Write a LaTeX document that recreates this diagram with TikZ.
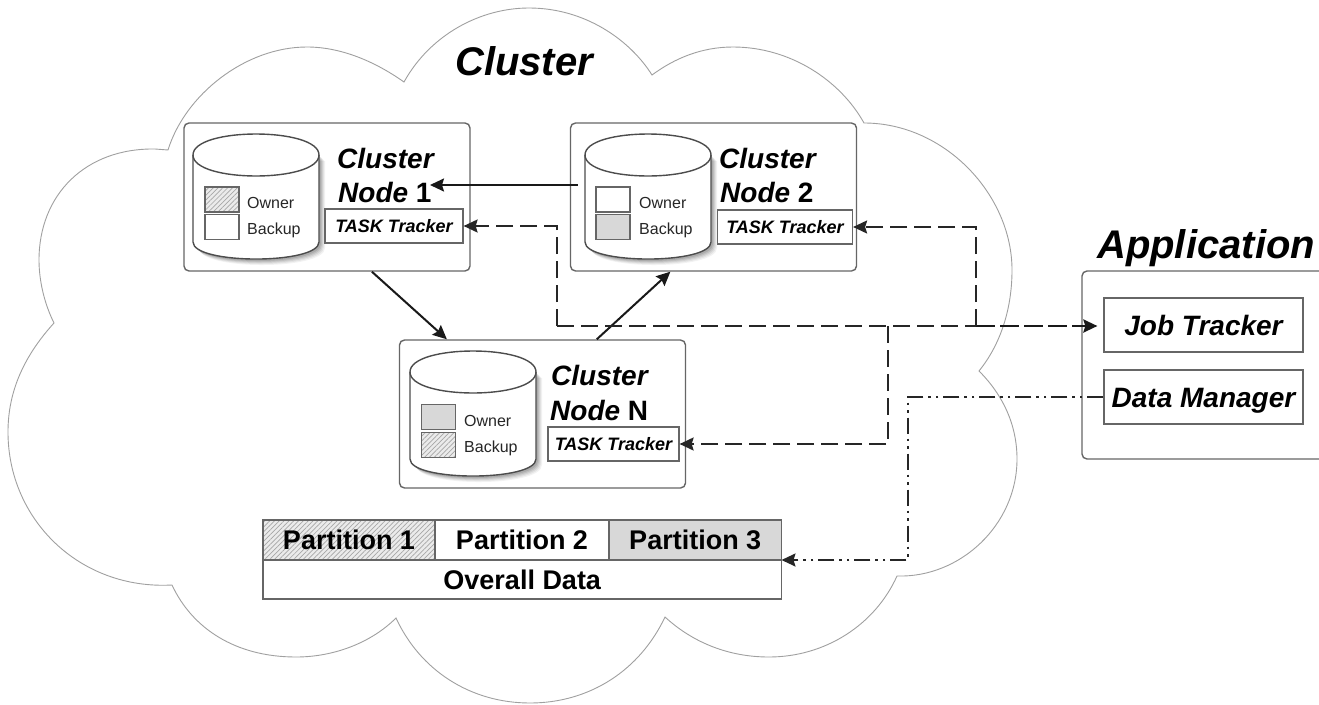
\documentclass[tikz,border=0pt]{standalone}
\usepackage{fontspec}
\setmainfont{Liberation Sans}
\usetikzlibrary{arrows.meta,patterns.meta}
\definecolor{edgegray}{HTML}{666666}
\definecolor{cloudgray}{HTML}{A0A0A0}
\definecolor{fillgray}{HTML}{D8D8D8}
\definecolor{hatchgray}{HTML}{A6A6A6}
\tikzset{
  cloudline/.style={draw=cloudgray,line width=0.9pt},
  nodebox/.style={draw=edgegray,line width=1.4pt,rounded corners=5pt,minimum width=286pt,minimum height=148pt,inner sep=0pt,fill=white},
  trackbox/.style={draw=edgegray,line width=1.2pt,inner sep=0pt,minimum height=34pt,font=\fontsize{18}{20}\selectfont\bfseries\itshape},
  appbox/.style={draw=edgegray,line width=1.2pt,inner sep=0pt,minimum width=199pt,minimum height=54pt,text height=20pt,text depth=0pt,font=\fontsize{28}{30}\selectfont\bfseries\itshape},
  swatch/.style={draw=edgegray,line width=1.2pt,inner sep=0pt,minimum width=34pt,minimum height=25pt},
  hatched/.style={preaction={fill=fillgray!50},pattern={Lines[angle=45,distance=3.4pt,line width=0.7pt]},pattern color=hatchgray},
  solidfill/.style={fill=fillgray},
  smalltxt/.style={anchor=west,inner sep=0pt,text=black!85,font=\fontsize{16}{18}\selectfont},
  headtxt/.style={anchor=base west,inner sep=0pt,font=\fontsize{28}{30}\selectfont\bfseries\itshape},
  bigtxt/.style={anchor=base west,inner sep=0pt,font=\fontsize{40}{44}\selectfont\bfseries\itshape},
  celltxt/.style={draw=edgegray,line width=1.2pt,inner sep=0pt,font=\fontsize{27}{30}\selectfont\bfseries},
  tip/.style={-{Stealth[length=14pt,width=13pt,inset=2pt]}},
  solidconn/.style={tip,line width=2pt,black!90},
  dashconn/.style={line width=2pt,black!85,dash pattern=on 17pt off 7pt},
  dashheavy/.style={line width=2.6pt,black!90,dash pattern=on 19pt off 5pt},
  dotconn/.style={line width=2pt,black!85,dash pattern=on 16pt off 5pt on 2.5pt off 5pt on 2.5pt off 5pt},
}
\newcommand{\dbcyl}[2]{%
  \foreach \o/\s in {6/0.05,5/0.06,4/0.07,3/0.09,2/0.10}{
    \fill[black,opacity=\s,shift={(\o pt,-\o pt)}] (#1,#2) -- ++(0,87) .. controls +(0,22.7) and +(0,22.7) .. ++(126,0) -- ++(0,-87) -- cycle;
  }
  \draw[fill=white,draw=black!70,line width=1.4pt] (#1,#2) -- ++(0,87) .. controls +(0,22.7) and +(0,22.7) .. ++(126,0) -- ++(0,-87) .. controls +(0,-28) and +(0,-28) .. ++(-126,0) -- cycle;
  \draw[draw=black!70,line width=1.4pt] (#1,#2) .. controls +(0,28) and +(0,28) .. ++(126,0);
}
\begin{document}
\begin{tikzpicture}[x=1pt,y=-1pt]
\useasboundingbox (0,0) rectangle (1319,704);
% cloud
\draw[cloudline,fill=white] (168,150)
  .. controls (185,95) and (245,47) .. (307,47)
  .. controls (345,47) and (380,65) .. (404,82)
  .. controls (430,35) and (480,8) .. (529,8)
  .. controls (585,8) and (630,40) .. (652,75)
  .. controls (675,58) and (702,47) .. (733,47)
  .. controls (790,47) and (840,80) .. (864,123)
  .. controls (945,123) and (1012,195) .. (1012,270)
  .. controls (1012,310) and (1000,345) .. (979,371)
  .. controls (1003,395) and (1017,425) .. (1017,459)
  .. controls (1017,525) and (960,578) .. (897,576)
  .. controls (875,625) and (825,657) .. (769,657)
  .. controls (725,657) and (690,640) .. (665,617)
  .. controls (640,670) and (590,703) .. (530,703)
  .. controls (470,703) and (420,670) .. (396,618)
  .. controls (372,642) and (335,657) .. (296,657)
  .. controls (235,657) and (192,628) .. (172,585)
  .. controls (80,590) and (8,520) .. (8,432)
  .. controls (8,390) and (25,355) .. (54,323)
  .. controls (45,305) and (39,282) .. (39,260)
  .. controls (39,195) and (85,148) .. (155,149)
  -- cycle;
\node[bigtxt] (clustertitle) at (455,75) {Cluster};

% cluster node boxes
\node[nodebox] (n1) at (327,197) {};
\node[nodebox] (n2) at (713.5,197) {};
\node[nodebox] (nN) at (542.5,414) {};

% cylinders
\dbcyl{193}{155}
\dbcyl{585}{155}
\dbcyl{410}{372}

% node 1 contents
\node[swatch,hatched] (o1) at (222,199.5) {};
\node[swatch] (b1) at (222,227) {};
\node[smalltxt] (to1) at (247,203) {Owner};
\node[smalltxt] (tb1) at (247,230) {Backup};
\node[headtxt] (h1a) at (337,168) {Cluster};
\node[headtxt] (h1b) at (338,202) {Node \upshape 1};
\node[trackbox,minimum width=138pt] (tt1) at (394,226) {TASK Tracker};

% node 2 contents
\node[swatch] (o2) at (613,199.5) {};
\node[swatch,solidfill] (b2) at (613,227) {};
\node[smalltxt] (to2) at (639,203) {Owner};
\node[smalltxt] (tb2) at (639,230) {Backup};
\node[headtxt] (h2a) at (719,168) {Cluster};
\node[headtxt] (h2b) at (720,202) {Node \upshape 2};
\node[trackbox,minimum width=135pt] (tt2) at (785,227) {TASK Tracker};

% node N contents
\node[swatch,solidfill] (oN) at (438.5,417) {};
\node[swatch,hatched] (bN) at (438.5,445) {};
\node[smalltxt] (toN) at (464,421) {Owner};
\node[smalltxt] (tbN) at (464,448) {Backup};
\node[headtxt] (hNa) at (551,385) {Cluster};
\node[headtxt] (hNb) at (550,420) {Node \upshape N};
\node[trackbox,minimum width=131pt] (ttN) at (613.5,444) {TASK Tracker};

% table
\node[celltxt,hatched,minimum width=172pt,minimum height=40pt] (p1) at (349,540) {};
\node[celltxt,minimum width=174pt,minimum height=40pt] (p2) at (522,540) {Partition 2};
\node[celltxt,solidfill,minimum width=172.5pt,minimum height=40pt] (p3) at (695.25,540) {Partition 3};
\node[celltxt,minimum width=518.5pt,minimum height=39pt] (overall) at (522.25,579.5) {Overall Data};
\node[font=\fontsize{27}{30}\selectfont\bfseries,inner sep=0pt] (p1t) at (p1.center) {Partition 1};

% application (runs off the right edge)
\draw[draw=edgegray,line width=1.4pt,rounded corners=5pt,fill=white] (1325,271) -- (1082,271) -- (1082,459) -- (1325,459);
\node[bigtxt] (apptitle) at (1097,258) {Application};
\node[appbox] (jt) at (1203.5,325) {Job Tracker};
\node[appbox] (dm) at (1203.5,397) {Data Manager};

% solid connectors
\coordinate (from2) at (577.5,185);
\coordinate (to1) at (430,185);
\draw[solidconn] (from2) -- (to1);
\draw[solidconn] (n1.-59.3) -- (nN.142.5);
\draw[solidconn] (nN.54.6) -- (n2.-120.4);

% dashed connectors
\coordinate (busL) at (557,326);
\coordinate (busN) at (888,326);
\coordinate (busR) at (976,326);
\coordinate (jtin) at (jt.west |- busL);
\draw[dashconn] (busL) -- (busR);
\draw[dashheavy,tip,shorten >=6pt] (busR) -- (jtin);
\draw[dashconn,tip] (busL) |- (tt1.east);
\draw[dashconn,tip] (busR) |- (tt2.east);
\draw[dashconn,tip] (busN) |- (ttN.east);

% dash-dot connector
\coordinate (dmturn) at (908,397);
\coordinate (ptin) at (781.5,560);
\draw[dotconn,tip] (dm.west) -- (dmturn) |- (ptin);
\end{tikzpicture}
\end{document}
